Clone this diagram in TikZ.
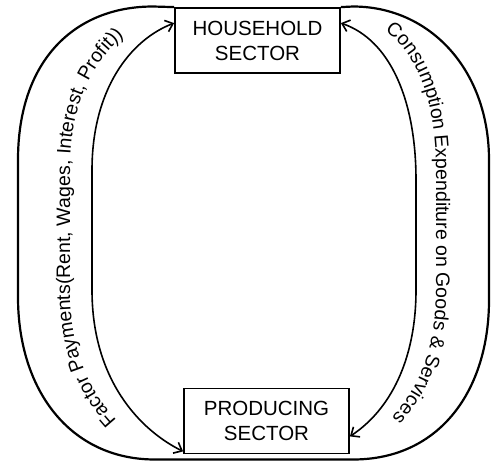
\documentclass[tikz,border=0pt]{standalone}
\usepackage{fontspec}
\setmainfont{Liberation Sans}
\usetikzlibrary{arrows.meta,decorations.text}
\newcommand\lblfont{\fontsize{19.5}{22}\selectfont}
\begin{document}
\begin{tikzpicture}[x=1pt,y=-1pt,
  box/.style={draw,line width=1.8pt,minimum width=165pt,minimum height=65pt,inner sep=0pt,
    align=center,font=\fontsize{20.5}{25}\selectfont},
  outerloop/.style={line width=2.2pt},
  flow/.style={line width=1.6pt,{Straight Barb[length=7pt,width=12pt,line width=1.6pt]}-{Straight Barb[length=7pt,width=12pt,line width=1.6pt]}},
  lbl/.style={decorate,decoration={text along path,text align=center,text={#1}}}
]
\useasboundingbox (0,0) rectangle (493,464);
\fill[white] (0,0) rectangle (493,464);

\node[box] (household) at (257.5,40.5) {HOUSEHOLD\\SECTOR};
\node[box] (producing) at (266.5,421) {PRODUCING\\SECTOR};

% outer loop
\draw[outerloop] (household.north west) -- (153,6.5)
  .. controls (75,6.5) and (18,60) .. (18,160) -- (18,297)
  .. controls (18,390) and (70,459.5) .. (155,459.5) -- (353,459.5)
  .. controls (440,459.5) and (489,390) .. (489,300) -- (489,160)
  .. controls (489,70) and (430,6.5) .. (353,6.5) -- (household.north east);

% inner flows
\draw[flow] ([yshift=3pt]producing.south west)
  .. controls (140,430) and (92,380) .. (92,290) -- (92,170)
  .. controls (92,90) and (130,40) .. ([yshift=-16pt]household.north west);
\draw[flow] ([yshift=-16pt]household.north east)
  .. controls (390,40) and (416,100) .. (416,180) -- (416,290)
  .. controls (416,360) and (390,410) .. ([yshift=18pt]producing.south east);

% labels along the curves
\path[lbl={|\lblfont|Factor Payments(Rent, Wages, Interest, Profit))}]
  (137,440) .. controls (95,405) and (70,360) .. (70,290) -- (70,170)
  .. controls (70,100) and (95,50) .. (147,20);
\path[lbl={|\lblfont|Consumption Expenditure on Goods {\&} Services}]
  (355,17) .. controls (410,30) and (436,90) .. (436,170) -- (436,290)
  .. controls (436,360) and (412,405) .. (368,440);
\end{tikzpicture}
\end{document}
